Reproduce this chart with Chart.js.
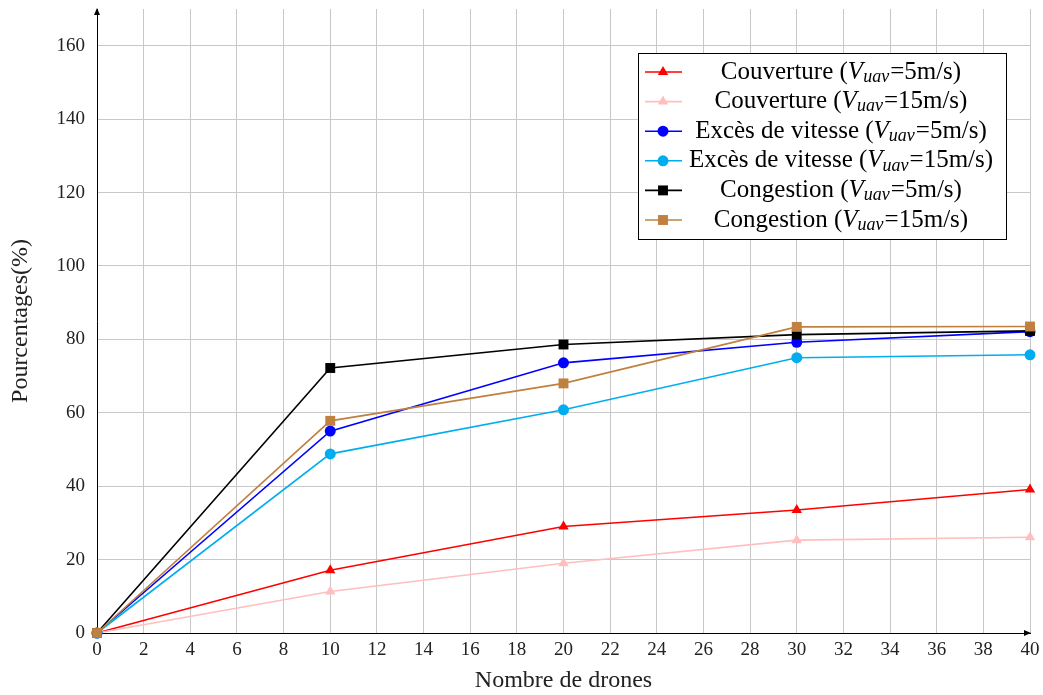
<!DOCTYPE html>
<html>
<head>
<meta charset="utf-8">
<script src="https://cdn.jsdelivr.net/npm/chart.js@4/dist/chart.umd.min.js"></script>
<style>
  html, body { margin: 0; padding: 0; background: #fff; }
  #wrap { width: 1043px; height: 695px; position: relative; }
</style>
</head>
<body>
<div id="wrap"><canvas id="chart"></canvas></div>
<script>
// data
var drones = [0, 10, 20, 30, 40];
var couv5 = [0, 17.1, 29.0, 33.5, 39.1];
var couv15 = [0, 11.3, 19.0, 25.3, 26.1];
var exces5 = [0, 55.0, 73.6, 79.2, 82.1];
var exces15 = [0, 48.8, 60.8, 75.0, 75.8];
var cong5 = [0, 72.2, 78.6, 81.3, 82.3];
var cong15 = [0, 57.8, 68.0, 83.4, 83.5];
var xTicks = [0, 2, 4, 6, 8, 10, 12, 14, 16, 18, 20, 22, 24, 26, 28, 30, 32, 34, 36, 38, 40];
var yTicks = [0, 20, 40, 60, 80, 100, 120, 140, 160];

var FONT = "'Liberation Serif', 'DejaVu Serif', serif";

// legend entries: name, speed, color, marker
var series = [
    { name: "Couverture", speed: "5", data: couv5, color: "#ff0000", marker: "triangle", r: 6 },
    { name: "Couverture", speed: "15", data: couv15, color: "#ffbfbf", marker: "triangle", r: 6 },
    { name: "Excès de vitesse", speed: "5", data: exces5, color: "#0000ff", marker: "circle", r: 5.5 },
    { name: "Excès de vitesse", speed: "15", data: exces15, color: "#00aeef", marker: "circle", r: 5.5 },
    { name: "Congestion", speed: "5", data: cong5, color: "#000000", marker: "rect", r: 7 },
    { name: "Congestion", speed: "15", data: cong15, color: "#bf8040", marker: "rect", r: 7 }
];

var datasets = series.map(function(s, i) {
    return {
        label: s.name + " (Vuav=" + s.speed + "m/s)",
        data: drones.map(function(x, j) { return { x: x, y: s.data[j] }; }),
        borderColor: s.color,
        backgroundColor: s.color,
        borderWidth: 1.6,
        pointStyle: s.marker,
        pointRadius: s.r,
        pointBorderWidth: 0,
        pointHoverRadius: s.r,
        tension: 0,
        clip: false,
        order: series.length - i
    };
});

function marker(ctx, type, x, y, r, color) {
    ctx.save();
    ctx.fillStyle = color;
    ctx.beginPath();
    if (type === "circle") {
        ctx.arc(x, y, r, 0, Math.PI * 2);
    } else if (type === "rect") {
        var h = r * Math.SQRT1_2;
        ctx.rect(x - h, y - h, 2 * h, 2 * h);
    } else {
        ctx.moveTo(x, y - r);
        ctx.lineTo(x + r * Math.sin(Math.PI / 3), y + r / 2);
        ctx.lineTo(x - r * Math.sin(Math.PI / 3), y + r / 2);
        ctx.closePath();
    }
    ctx.fill();
    ctx.restore();
}

var extras = {
    id: "extras",
    afterDraw: function(chart) {
        var ctx = chart.ctx;
        var a = chart.chartArea;
        ctx.save();
        // axis arrows
        ctx.fillStyle = "#000";
        ctx.beginPath();
        ctx.moveTo(a.left, a.top - 1);
        ctx.lineTo(a.left - 3, a.top + 6);
        ctx.lineTo(a.left + 3, a.top + 6);
        ctx.closePath();
        ctx.fill();
        ctx.beginPath();
        ctx.moveTo(a.right + 1, a.bottom);
        ctx.lineTo(a.right - 6, a.bottom - 3);
        ctx.lineTo(a.right - 6, a.bottom + 3);
        ctx.closePath();
        ctx.fill();

        // legend box
        var bx = 638, by = 53, bw = 368, bh = 186;
        ctx.fillStyle = "#fff";
        ctx.fillRect(bx, by, bw, bh);
        ctx.strokeStyle = "#000";
        ctx.lineWidth = 1;
        ctx.strokeRect(bx + 0.5, by + 0.5, bw, bh);

        var rowH = 29.6;
        var fs = 25;
        var fsub = 18;
        series.forEach(function(s, i) {
            var cy = by + 19 + i * rowH;
            ctx.strokeStyle = s.color;
            ctx.lineWidth = 1.6;
            ctx.beginPath();
            ctx.moveTo(bx + 7, cy);
            ctx.lineTo(bx + 44, cy);
            ctx.stroke();
            marker(ctx, s.marker, bx + 25, cy, s.r, s.color);

            var p1 = s.name + " (";
            var p3 = "=" + s.speed + "m/s)";
            ctx.textBaseline = "middle";
            ctx.fillStyle = "#000";
            ctx.font = fs + "px " + FONT;
            var w1 = ctx.measureText(p1).width;
            var w3 = ctx.measureText(p3).width;
            ctx.font = "italic " + fs + "px " + FONT;
            var wV = ctx.measureText("V").width;
            ctx.font = "italic " + fsub + "px " + FONT;
            var wS = ctx.measureText("uav").width;
            var total = w1 + wV + wS + w3 + 1;
            var tx = 841 - total / 2;
            ctx.font = fs + "px " + FONT;
            ctx.fillText(p1, tx, cy);
            tx += w1;
            ctx.font = "italic " + fs + "px " + FONT;
            ctx.fillText("V", tx, cy);
            tx += wV;
            ctx.font = "italic " + fsub + "px " + FONT;
            ctx.fillText("uav", tx, cy + 5);
            tx += wS + 1;
            ctx.font = fs + "px " + FONT;
            ctx.fillText(p3, tx, cy);
        });
        ctx.restore();
    }
};

var ctx = document.getElementById("chart");

var chart = new Chart(ctx, {
    type: "line",
    data: { datasets: datasets },
    options: {
        responsive: true,
        maintainAspectRatio: false,
        animation: false,
        layout: { padding: { top: 9, right: 13, left: 0, bottom: 0 } },
        plugins: {
            legend: { display: false },
            tooltip: { enabled: false }
        },
        scales: {
            x: {
                type: "linear",
                min: 0,
                max: 40,
                afterBuildTicks: function(scale) {
                    scale.ticks = xTicks.map(function(v) { return { value: v }; });
                },
                afterFit: function(scale) {
                    scale.height = 62;
                    scale.paddingLeft = 0;
                    scale.paddingRight = 0;
                },
                grid: { color: "#c8c8c8", lineWidth: 1, drawTicks: false },
                border: { color: "#000", width: 1 },
                ticks: {
                    color: "#222",
                    font: { family: FONT, size: 19 },
                    padding: 6,
                    maxRotation: 0,
                    autoSkip: false
                },
                title: {
                    display: true,
                    text: "Nombre de drones",
                    color: "#222",
                    font: { family: FONT, size: 24 },
                    padding: { top: 4, bottom: 0 }
                }
            },
            y: {
                type: "linear",
                min: 0,
                max: 170,
                afterBuildTicks: function(scale) {
                    scale.ticks = yTicks.map(function(v) { return { value: v }; });
                },
                afterFit: function(scale) {
                    scale.width = 97;
                    scale.paddingTop = 0;
                    scale.paddingBottom = 0;
                },
                grid: { color: "#c8c8c8", lineWidth: 1, drawTicks: false },
                border: { color: "#000", width: 1 },
                ticks: {
                    color: "#222",
                    font: { family: FONT, size: 19 },
                    padding: 12
                },
                title: {
                    display: true,
                    text: "Pourcentages(%)",
                    color: "#222",
                    font: { family: FONT, size: 24 },
                    padding: { top: 6, bottom: 0 }
                }
            }
        }
    },
    plugins: [extras]
});
</script>
</body>
</html>
